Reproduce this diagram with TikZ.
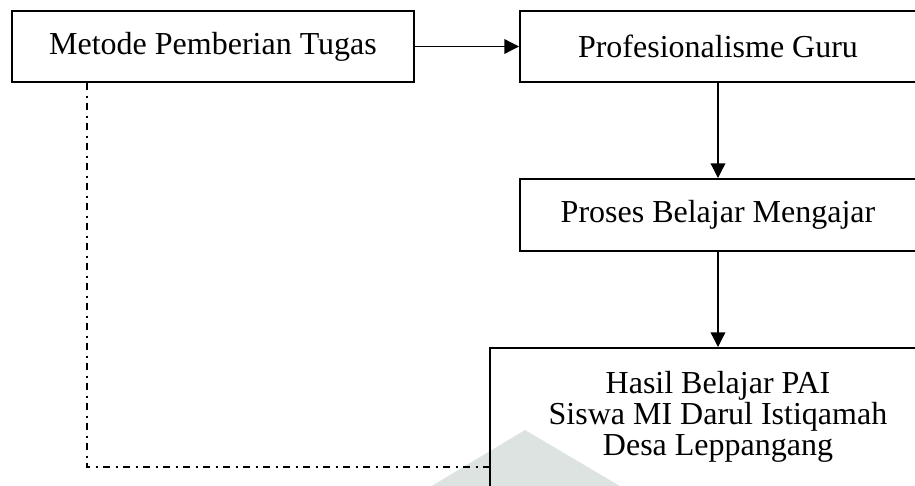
\documentclass[tikz,border=0pt]{standalone}
\usepackage{fontspec}
\setmainfont{Liberation Serif}
\usetikzlibrary{arrows.meta}
\definecolor{samar}{RGB}{220,227,224}
\tikzset{
box/.style={
	draw, rectangle, line width=1.5pt, inner sep=0pt,
	font=\fontsize{24}{23.25}\selectfont},
alur/.style={-{Triangle[length=11pt,width=11pt]}, line width=1pt},
garis/.style={line width=1.3pt, dash pattern=on 5.5pt off 4pt on 1.5pt off 4pt}
}

\begin{document}
\begin{tikzpicture}[x=0.75pt, y=-0.75pt]
	\useasboundingbox (0,0) rectangle (915,486);
	\clip (0,0) rectangle (915,486);
	% watermark
	\fill[samar] (525,430) -- (400,505) -- (652,505) -- cycle;
	\node[box, minimum width=301.5pt, minimum height=53.25pt] (metode) at (213,46.5) {Metode Pemberian Tugas};
	\node[box, minimum width=297pt, minimum height=53.25pt] (profesi) at (718,46.5) {Profesionalisme Guru};
	\node[box, minimum width=297pt, minimum height=54pt] (proses) at (718,215) {Proses Belajar Mengajar};
	\node[box, minimum width=342pt, anchor=north, align=center, inner ysep=7.75pt,
		text height=72.5pt, text depth=60pt] (hasil) at (718,347)
		{Hasil Belajar PAI\\Siswa MI Darul Istiqamah\\Desa Leppangang};
	\coordinate (belok) at (87,467);
	\draw[alur] (metode) -- (profesi);
	\draw[alur] (profesi) -- (proses);
	\draw[alur] (proses) -- (hasil);
	\draw[garis] (metode.south -| belok) -- (belok) -- (belok -| hasil.west);
\end{tikzpicture}
\end{document}
